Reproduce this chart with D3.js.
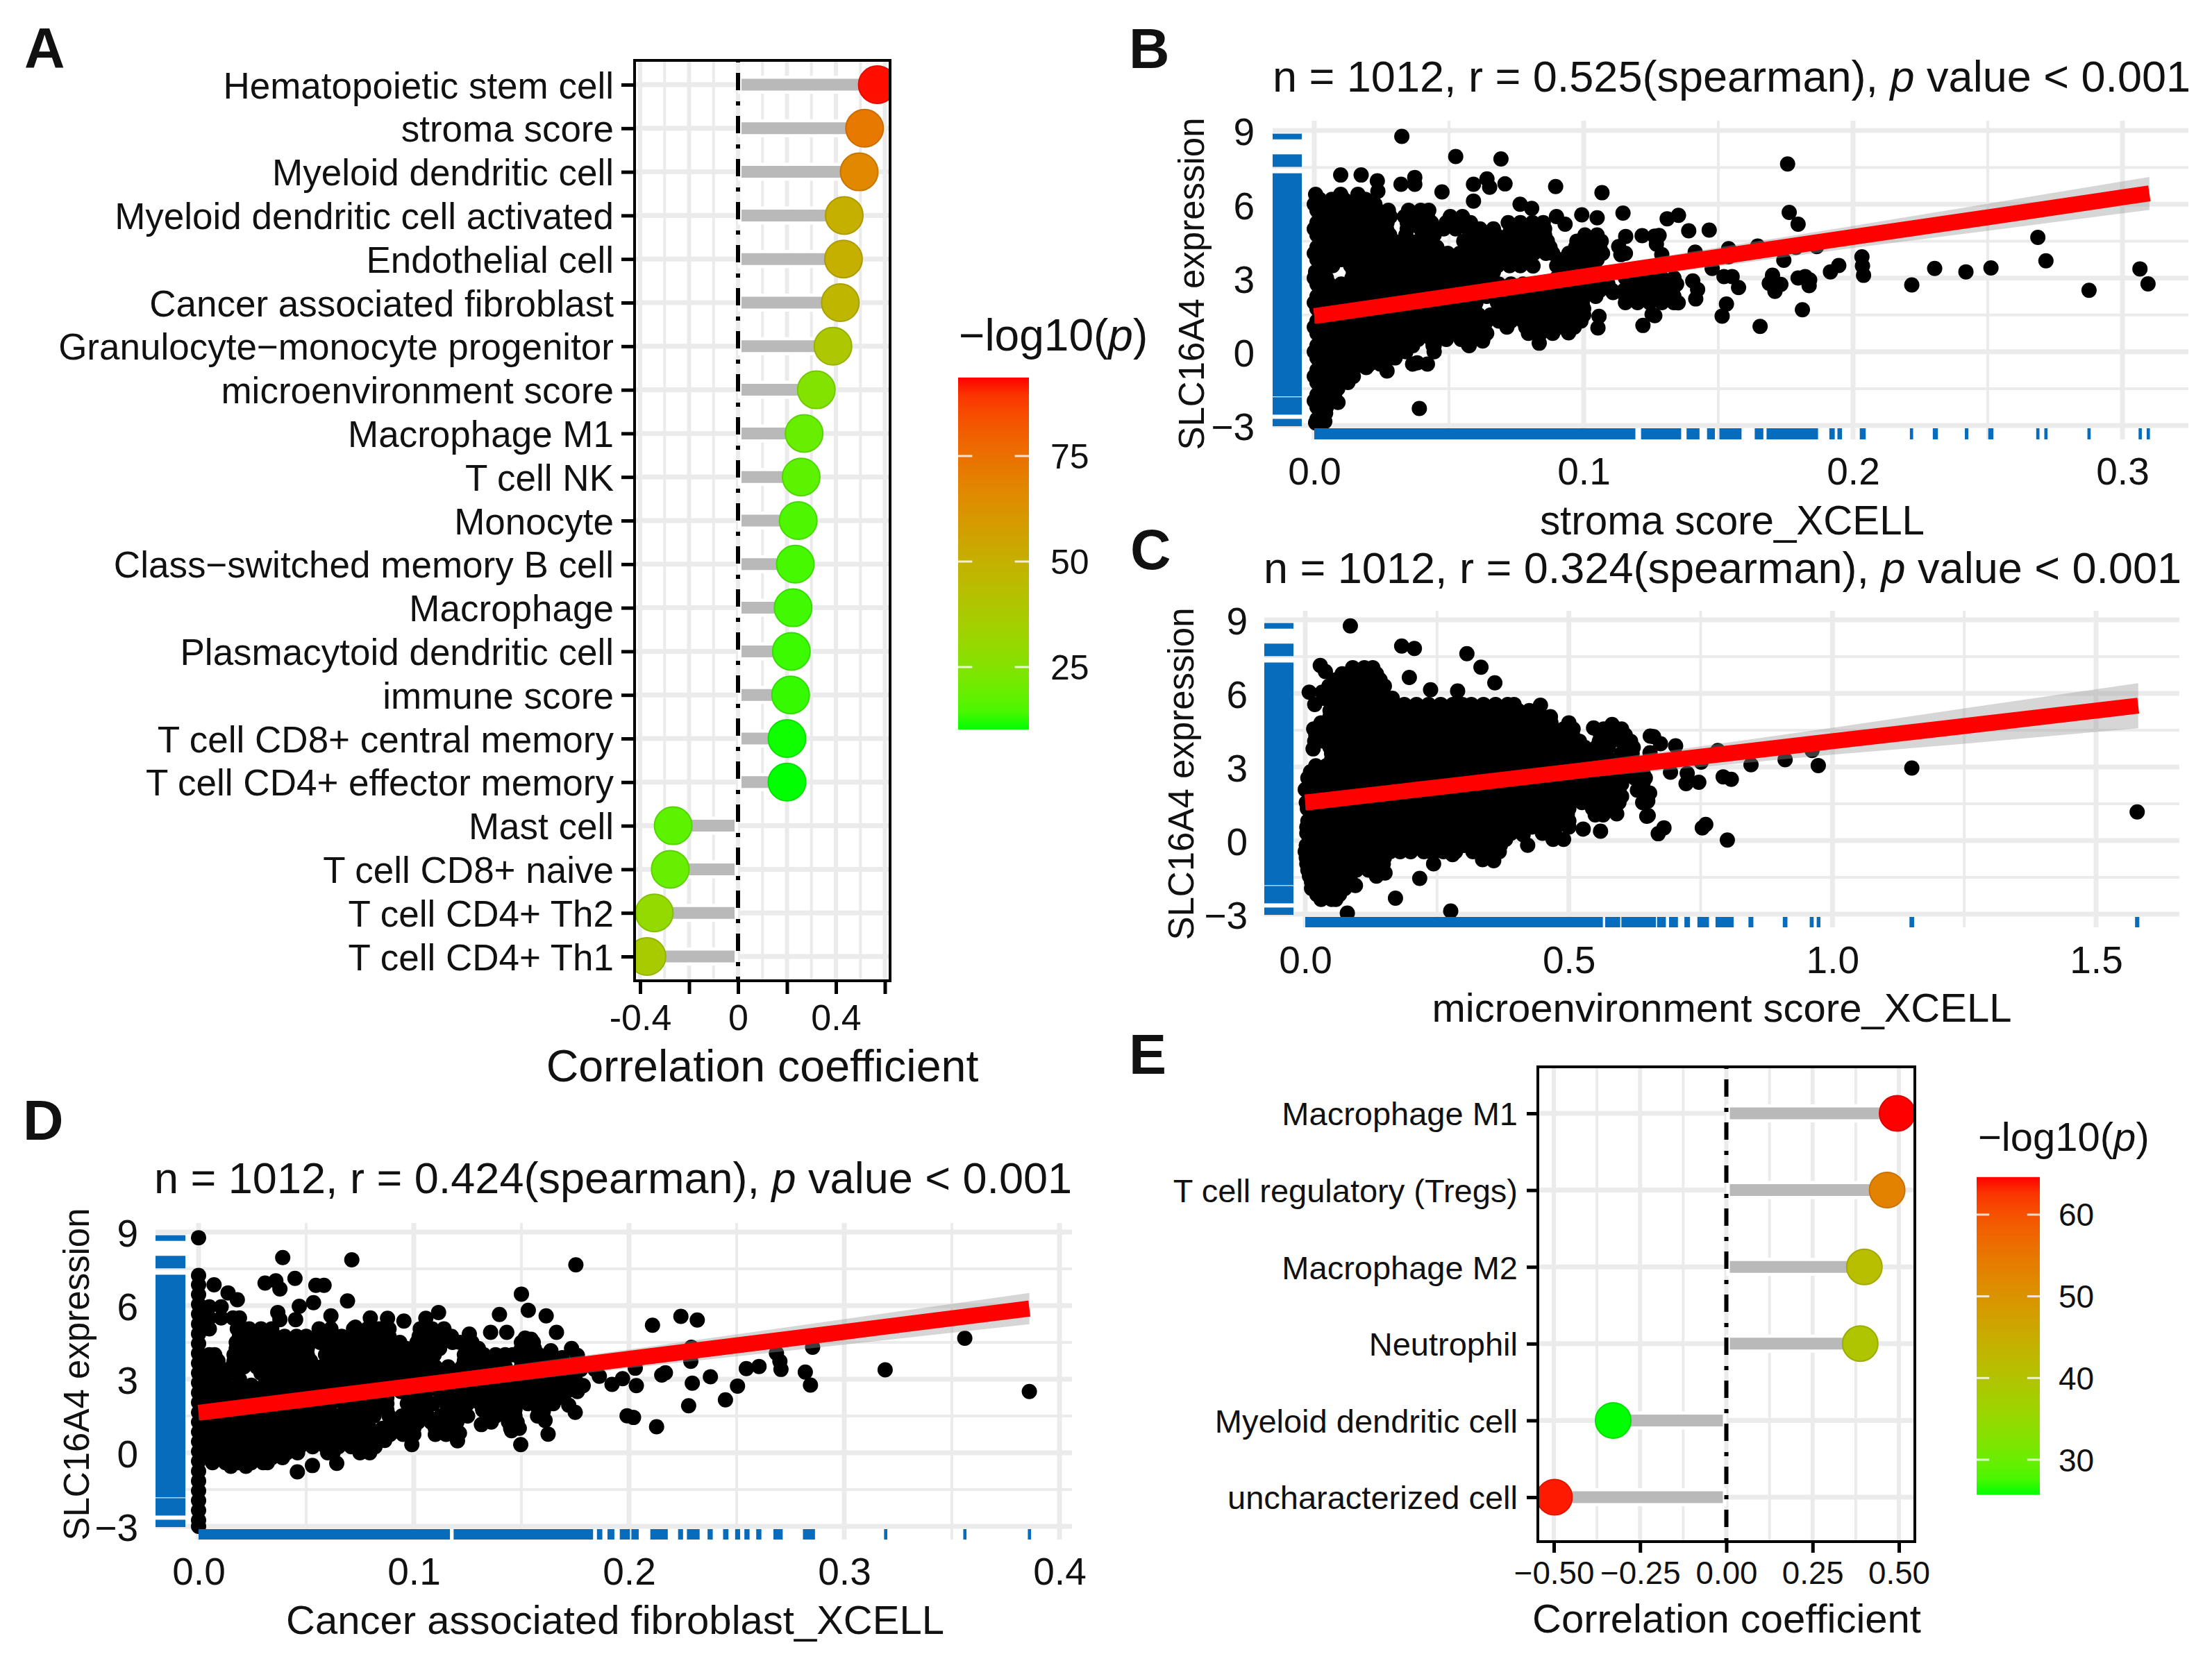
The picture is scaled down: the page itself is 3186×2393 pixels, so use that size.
<!DOCTYPE html>
<html>
<head>
<meta charset="utf-8">
<script src="https://cdn.jsdelivr.net/npm/d3@7"></script>
<style>
  html, body { margin: 0; background: #fff; }
  text { font-family: "Liberation Sans", Arial, sans-serif; fill: #111; }
</style>
</head>
<body>
<script>
// Panel A values
const cellsA = ['Hematopoietic stem cell', 'stroma score', 'Myeloid dendritic cell', 'Myeloid dendritic cell activated',
  'Endothelial cell', 'Cancer associated fibroblast', 'Granulocyte\u2212monocyte progenitor', 'microenvironment score',
  'Macrophage M1', 'T cell NK', 'Monocyte', 'Class\u2212switched memory B cell', 'Macrophage', 'Plasmacytoid dendritic cell',
  'immune score', 'T cell CD8+ central memory', 'T cell CD4+ effector memory', 'Mast cell', 'T cell CD8+ naive',
  'T cell CD4+ Th2', 'T cell CD4+ Th1'];
const corrA = [0.569, 0.517, 0.495, 0.434, 0.431, 0.418, 0.388, 0.32, 0.27, 0.258, 0.246, 0.234, 0.225, 0.218, 0.215, 0.2, 0.2, -0.265, -0.277, -0.342, -0.372];
const logpA = [93, 72, 67, 50, 50, 47, 39, 25, 19, 17, 15, 14, 13.5, 13, 12.5, 10.5, 10.2, 17, 19, 30, 37];

// Panel E values
const cellsE = ['Macrophage M1', 'T cell regulatory (Tregs)', 'Macrophage M2', 'Neutrophil', 'Myeloid dendritic cell', 'uncharacterized cell'];
const corrE = [0.495, 0.466, 0.40, 0.388, -0.328, -0.498];
const logpE = [64.6, 53, 41, 39.5, 25.7, 64];

// Rug of the expression values, the same in B, C and D: [from, to]
const exprRug = [[8.87, 8.64], [8.03, 7.52], [7.26, -1.82], [-1.85, -2.56], [-2.73, -3.03]];

// The clouds are too dense to read dot by dot. Loose points were read one by one,
// the solid parts are estimated as rows: [y, x, x, x ...]
const stromaLoose = [[.0325,8.76],[.0525,7.94],[.0693,7.84],[.0098,7.19],[.0174,7.19],[.0234,6.95],[.0236,6.53],[.0322,6.81],[.0373,7.09],[.0373,6.81],
  [.0474,6.5],[.0591,6.81],[.0641,7.03],[.0651,6.69],[.0708,6.83],[.0591,6.13],[.0896,6.72],[.1068,6.47],[.1146,5.64],[.0993,5.57],[.0899,5.5],[.0931,5.19],
  [.105,5.45],[.0764,6.0],[.0807,5.83],[.0831,5.08],[.1217,4.72],[.1156,4.69],[.113,4.28],[.1138,3.95],[.1263,4.7],[.0812,3.49],[.1109,2.41],[.1057,1.44],
  [.1053,.97],[.122,1.07],[.1254,1.52],[.0835,.35],[.0944,.77],[.0715,1.24],[.0796,.86],[.0572,.28],[.0625,.44],[.0441,.25],[.0382,-.45],[.027,-.78],[.0193,-.64],
  [.039,-2.31],[.0088,-2.06],[.0039,-2.84],[.0005,-2.89],[.1757,7.64],[.1763,5.67],[.1796,5.19],[.1352,5.55],[.131,5.41],[.139,4.92],[.1466,4.95],[.128,4.73],
  [.127,4.38],[.129,3.95],[.1414,4.05],[.1538,4.19],[.1538,3.86],[.1646,4.3],[.1743,3.72],[.1865,4.28],[.1788,4.24],[.1477,3.39],[.1521,3.06],[.1551,3.06],
  [.1575,2.61],[.1405,2.88],[.1423,2.53],[.1416,2.15],[.1351,1.99],[.153,1.94],[.1514,1.45],[.1655,1.03],[.1812,1.71],[.1701,3.11],[.1689,2.78],[.1732,2.74],
  [.171,2.46],[.171,2.78],[.1796,3.0],[.1822,3.06],[.1839,2.92],[.1837,2.69],[.1916,3.25],[.1947,3.51],[.2033,3.86],[.2035,3.49],[.2039,3.11],[.2218,2.72],
  [.2303,3.39],[.2419,3.25],[.2512,3.41],[.2686,4.65],[.2716,3.7],[.2876,2.5],[.3065,3.37],[.3095,2.76],[.1264,1.47]];
const stromaRows = [
  [6.4,.0005,.0098,.0162],
  [6.2,.002,.0065,.011,.0155,.019],
  [6.0,0,.0045,.0135,.0185,.0225],
  [5.75,.001,.0055,.01,.0145,.019,.0235,.0275,.035,.0395,.0425],
  [5.5,.0022,.0068,.0115,.016,.0205,.0248,.0282,.0335,.038,.042,.0505,.055],
  [5.25,.001,.0055,.01,.0145,.019,.0235,.027,.0345,.039,.0435,.049,.0535,.058,.072,.0765,.081,.085],
  [5.0,0,.0045,.009,.0135,.018,.0225,.0268,.0345,.0395,.0435,.048,.0525,.057,.0615,.0665,.073,.0775,.082,.0855],
  [4.75,.001,.0055,.01,.0145,.019,.0235,.028,.034,.0405,.0445,.0585,.063,.0675,.072,.0765,.081,.0855,.1005,.105],
  [4.5,.0022,.0068,.0113,.016,.0205,.025,.0295,.034,.0385,.043,.0555,.06,.0645,.069,.073,.0795,.084,.0865,.0975,.102,.1065],
  [4.25,.001,.0055,.01,.0145,.019,.0235,.028,.0325,.037,.0415,.0455,.0565,.061,.0655,.07,.0745,.078,.083,.0875,.097,.1015,.106],
  [4.0,0,.0045,.009,.0135,.018,.0225,.027,.0315,.036,.0405,.045,.0495,.054,.0585,.063,.0675,.072,.0765,.0815,.086,.0885,.0945,.099,.1035,.107,.1155],
  [3.75,.001,.0055,.01,.0145,.019,.0235,.028,.0325,.037,.0415,.046,.0505,.055,.0595,.064,.0685,.073,.0775,.092,.0965,.101,.105],
  [3.5,.0022,.0068,.0135,.0185,.023,.0275,.032,.0365,.041,.0455,.05,.0545,.059,.0635,.068,.0725,.0765,.09,.0945,.099,.1035],
  [3.25,.0005,.003,.0145,.019,.0235,.028,.0325,.037,.0415,.046,.0505,.055,.0595,.064,.0665,.0915,.096,.1005,.105],
  [3.0,0,.0045,.014,.0185,.023,.0275,.032,.0365,.041,.0455,.05,.0545,.059,.0635,.066,.09,.0945,.099,.1035,.107,.1155,.12,.1245,.129,.1335],
  [2.75,.001,.0055,.01,.0145,.019,.0235,.028,.0325,.037,.0415,.046,.0505,.055,.0595,.064,.0685,.073,.0775,.082,.0865,.091,.0955,.1,.1045,.109,.1165,.121,.1255,.13,.1345],
  [2.5,.0022,.0068,.0113,.016,.0205,.025,.0295,.034,.0385,.043,.0475,.052,.0565,.061,.0655,.07,.0745,.079,.0835,.088,.0925,.097,.1015,.106,.1105,.115,.1195,.124,.1285,.133],
  [2.25,.001,.0055,.01,.0145,.019,.0235,.028,.0325,.037,.0415,.046,.0505,.055,.0595,.064,.0685,.073,.0775,.082,.0865,.091,.0955,.1,.1045,.1155,.12,.1245,.129,.1335],
  [2.0,0,.0045,.009,.0135,.018,.0225,.027,.0315,.036,.0405,.045,.0495,.054,.0585,.06,.068,.0725,.077,.0815,.086,.0905,.095,.0995,.1155,.12,.1245,.129,.1335],
  [1.75,.001,.0055,.01,.0145,.019,.0235,.028,.0325,.037,.0415,.046,.0505,.055,.0595,.0695,.0745,.079,.0835,.088,.0925,.097,.1],
  [1.5,.0022,.0068,.0113,.016,.0205,.025,.0295,.034,.0385,.043,.0475,.052,.0565,.061,.0655,.07,.0745,.079,.0835,.088,.0925,.097,.1],
  [1.25,.001,.0055,.01,.0145,.019,.0235,.028,.0325,.037,.0415,.046,.0505,.055,.0595,.064,.0685,.073,.0775,.082,.0865,.091,.0955,.099],
  [1.0,0,.0045,.009,.0135,.018,.0225,.027,.0315,.036,.0405,.045,.0495,.054,.0585,.063,.0715,.0785,.083,.087,.091,.0965],
  [.75,.001,.0055,.01,.0145,.019,.0235,.028,.0325,.037,.0415,.046,.0505,.055,.0595,.064,.0795,.084,.0885],
  [.5,.0022,.0068,.0113,.016,.0205,.025,.0295,.034,.0385,.0435,.049,.0545,.059,.0625],
  [.25,.001,.0055,.01,.0145,.019,.0235,.028,.0325,.0365,.0445,.0575],
  [0,0,.0045,.009,.0135,.018,.0225,.027,.0315,.034,.0445],
  [-.25,.001,.0055,.01,.0145,.019,.0235,.028,.03],
  [-.5,.0022,.0068,.0113,.016,.0205,.0245,.0365,.042],
  [-.75,.001,.0055,.01,.0145],
  [-1,0,.0045,.009,.0135,.0145],
  [-1.25,.001,.0055,.01,.0125],
  [-1.5,.0022,.0068,.0087],
  [-1.75,.001,.0055,.0075],
  [-2,0,.004],
  [-2.25,.001,.0045],
  [-2.5,.0022,.0042],
  [-2.75,.001,.0035]
];

const microLoose = [[.0855,8.75],[.1829,7.93],[.207,7.83],[.3066,7.62],[.3333,7.07],[.3596,6.43],[.0285,7.14],[.0382,6.89],[.1974,6.65],[.2377,6.15],[.289,6.1],
  [.4461,5.52],[.0075,6.05],[.0149,3.74],[.0272,4.68],[0,2.08],[.2171,-1.54],[.1711,-2.35],[.0798,-2.96],[.2759,-2.87],[.0952,-1.83],[.1513,-1.32],[.2434,-.95],
  [.2346,-.43],[.2794,-.57],[.3364,-.78],[.3575,-.82],[.4219,-.19],[.4132,.24],[.5272,.47],[.5601,.38],[.5908,1.09],[.5469,4.59],[.582,4.73],[.6544,4.26],[.6478,.99],
  [.6607,4.24],[.6739,3.95],[.7025,3.86],[.654,3.58],[.6928,2.79],[.7245,2.74],[.7223,2.32],[.7465,2.38],[.7927,2.6],[.8081,2.5],[.8455,3.09],[.9102,3.3],[.9731,3.06],
  [.9613,3.67],[1.1505,2.96],[.7826,3.67],[.7509,3.2],[.6408,2.74],[.6408,2.36],[.6532,1.94],[.6497,1.61],[.6505,1.02],[.6804,.52],[.6695,.28],[.7597,.66],[.7531,.52],
  [.8006,.02],[1.578,1.17]];
const microRows = [
  [7.05,.09,.112,.128],
  [6.8,.07,.092,.115,.135],
  [6.55,.058,.08,.103,.125,.142],
  [6.3,.045,.068,.09,.113,.135,.15],
  [6.05,.032,.055,.078,.101,.124,.148],
  [5.8,.035,.06,.083,.106,.129,.152,.165],
  [5.55,.018,.05,.073,.096,.119,.142,.165,.188,.211,.234,.257,.28,.298,.315,.338,.361,.384,.396],
  [5.3,.047,.07,.093,.116,.139,.162,.185,.208,.231,.254,.277,.295,.312,.335,.358,.381,.404,.425],
  [5.05,.047,.07,.093,.116,.139,.162,.185,.208,.231,.254,.277,.285,.31,.333,.356,.379,.402,.425,.448,.465],
  [4.8,.03,.05,.075,.098,.121,.144,.167,.19,.213,.236,.259,.282,.305,.328,.351,.374,.397,.42,.443,.466,.5],
  [4.55,.016,.03,.058,.081,.104,.127,.15,.173,.196,.219,.242,.265,.288,.311,.334,.357,.38,.403,.426,.449,.468,.49,.508,.566,.585,.6],
  [4.3,.02,.045,.07,.093,.116,.139,.162,.185,.208,.231,.254,.277,.3,.323,.346,.369,.392,.415,.438,.461,.484,.507,.56,.583,.607],
  [4.05,.018,.036,.047,.07,.093,.116,.139,.162,.185,.208,.231,.254,.277,.3,.323,.346,.369,.392,.415,.438,.461,.484,.507,.52,.558,.58,.6,.617],
  [3.8,.047,.07,.093,.116,.139,.162,.185,.208,.231,.254,.277,.3,.323,.346,.369,.392,.415,.438,.461,.484,.507,.53,.552,.575,.606,.622],
  [3.55,.05,.073,.096,.119,.142,.165,.188,.211,.234,.257,.28,.303,.326,.349,.372,.395,.418,.441,.464,.487,.51,.533,.55,.565,.6,.62],
  [3.3,.05,.073,.096,.119,.142,.165,.188,.211,.234,.257,.28,.303,.326,.349,.372,.395,.418,.441,.464,.487,.51,.533,.556,.579,.61],
  [3.05,.02,.04,.062,.085,.108,.131,.154,.177,.2,.223,.246,.269,.292,.315,.338,.361,.384,.407,.43,.453,.476,.499,.522,.545,.568,.59,.63],
  [2.8,.01,.033,.056,.079,.102,.125,.148,.171,.194,.217,.24,.263,.286,.309,.332,.355,.378,.401,.424,.447,.47,.493,.516,.539,.562,.585,.608,.63],
  [2.55,.005,.027,.05,.073,.096,.119,.142,.165,.188,.211,.234,.257,.28,.303,.326,.349,.372,.395,.418,.441,.464,.487,.51,.533,.556,.579,.602,.625,.645],
  [2.3,.008,.031,.054,.077,.1,.123,.146,.169,.192,.215,.238,.261,.284,.307,.33,.353,.376,.399,.422,.445,.468,.491,.514,.537,.56,.583,.6,.635],
  [2.05,.022,.045,.068,.091,.114,.137,.16,.183,.206,.229,.252,.275,.298,.321,.344,.355,.397,.42,.443,.45,.48,.503,.526,.549,.572,.595,.63],
  [1.8,.01,.033,.056,.079,.102,.125,.148,.171,.194,.217,.24,.263,.286,.309,.332,.355,.378,.401,.424,.447,.47,.493,.516,.539,.562,.585,.6],
  [1.55,.002,.025,.048,.071,.094,.117,.14,.163,.186,.209,.232,.255,.278,.301,.324,.347,.37,.393,.416,.439,.462,.485,.5,.525,.548,.57,.595,.64],
  [1.3,.004,.027,.05,.073,.096,.119,.142,.165,.188,.211,.234,.257,.28,.303,.326,.349,.372,.395,.418,.441,.464,.487,.5,.545,.57],
  [1.05,.02,.043,.066,.089,.112,.135,.158,.181,.204,.227,.25,.273,.296,.319,.342,.365,.388,.411,.434,.457,.48,.497,.55,.565],
  [.8,.005,.028,.051,.074,.097,.12,.143,.166,.189,.212,.235,.258,.281,.304,.327,.35,.373,.396,.419,.442,.465,.488,.5],
  [.55,.003,.026,.049,.072,.095,.118,.141,.164,.187,.21,.233,.256,.279,.302,.325,.348,.371,.394,.4,.43,.453,.476,.5],
  [.3,.003,.026,.049,.072,.095,.118,.141,.164,.187,.21,.233,.256,.279,.302,.325,.348,.371,.39,.45,.47],
  [.05,.02,.043,.066,.089,.112,.135,.158,.181,.204,.227,.25,.273,.296,.319,.342,.365,.38,.47,.49],
  [-.2,.002,.025,.048,.071,.094,.117,.14,.163,.186,.209,.232,.255,.278,.301,.32,.345,.37],
  [-.45,0,.023,.046,.069,.092,.115,.138,.161,.18,.2,.225,.245,.262,.285,.318,.345,.368],
  [-.7,.002,.025,.048,.071,.094,.117,.14,.15],
  [-.95,.003,.026,.049,.072,.095,.118,.141,.148],
  [-1.2,.005,.028,.051,.074,.097,.12,.14],
  [-1.45,.008,.031,.054,.077,.085,.135],
  [-1.7,.012,.035,.058,.078],
  [-1.95,.012,.035,.058,.075],
  [-2.2,.022,.045,.065],
  [-2.4,.03,.05,.058]
];

const cafLoose = [[.0391,7.96],[.0712,7.87],[.0072,6.85],[.0137,6.52],[.018,6.24],[.0309,6.92],[.0359,7.01],[.0378,6.68],[.0448,7.11],[.0545,6.83],[.0583,6.83],[.0534,6.12],
  [.0692,6.19],[.0468,5.97],[.0368,5.72],[.0378,5.43],[.0451,5.43],[.0615,5.58],[.15,6.47],[.1532,5.81],[.1398,5.64],[.0459,-.78],[.0529,-.52],[.0642,-.43],[.0991,.33],
  [.1203,.49],[.1212,.8],[.1314,1.15],[.1497,.33],[.1454,.9],[.1115,5.72],[.1056,5.48],[.0798,5.5],[.0728,5.12],[.0878,5.48],[.0954,5.37],[.1258,4.84],[.1357,4.91],
  [.1432,4.91],[.1518,4.68],[.1753,7.66],[.1615,5.58],[.1663,4.91],[.1545,4.63],[.1733,4.25],[.176,3.97],[.155,4.16],[.1637,4.16],[.169,3.88],[.2029,3.45],[.2034,2.74],
  [.2152,3.17],[.2169,3.26],[.2287,3.73],[.229,4.3],[.2294,2.84],[.2378,3.1],[.2109,5.2],[.2241,5.56],[.2317,5.41],[.2277,1.92],[.2448,2.16],[.2504,2.72],[.2545,3.43],
  [.2604,3.52],[.2685,4.06],[.2701,3.73],[.2706,3.4],[.2853,4.3],[.2819,3.29],[.2843,2.76],[.1991,1.51],[.2021,1.44],[.2128,1.06],[.172,1.94],[.175,1.65],[.1602,1.7],
  [.161,1.32],[.1624,.76],[.1787,2.74],[.1862,3.12],[.1921,2.79],[.197,3.02],[.1841,3.4],[.1776,3.4],[.319,3.38],[.356,4.67],[.386,2.5]];
// many samples sit exactly on x = 0
const cafZeroExpr = [8.77,7.23,6.85,6.45,6.05,5.65,5.25,4.85,4.45,4.05,3.65,3.25,2.85,2.45,2.05,1.65,1.25,.85,.45,.05,-.35,-.75,-1.15,-1.55,-1.95,-2.35,-2.75,-3];
const cafRows = [
  [5.95,.005,.0105],
  [5.5,.005,.0105,.016,.019],
  [5.05,.005,.018,.0235,.029,.034,.056,.0615,.072,.0785,.084,.0885,.103,.1085,.114],
  [4.75,.019,.025,.031,.0355,.04,.0455,.05,.056,.0615,.0665,.0725,.078,.084,.0885,.1025,.108,.114,.1175],
  [4.5,.0175,.0235,.029,.035,.0415,.0465,.052,.0565,.062,.0675,.0705,.076,.082,.0875,.0935,.1015,.107,.1125,.118,.1215,.127,.15,.1555],
  [4.25,.0175,.0235,.029,.035,.041,.047,.0505,.0605,.0665,.0725,.0785,.0845,.0905,.0965,.1015,.107,.112,.125,.13,.15,.156],
  [4.0,.005,.0075,.0165,.022,.028,.034,.04,.046,.0505,.059,.065,.071,.077,.083,.089,.095,.1,.106,.1095,.1235,.13,.1325,.138,.1425,.146,.152,.158,.164],
  [3.75,.005,.009,.0165,.0225,.0285,.0345,.0405,.0465,.052,.06,.066,.072,.078,.084,.09,.096,.102,.107,.1235,.1295,.136,.142,.15,.156,.162,.168],
  [3.5,.005,.0095,.0155,.021,.027,.033,.039,.045,.051,.057,.0615,.068,.074,.08,.086,.092,.098,.104,.11,.116,.1225,.1285,.131,.1365,.1425,.15,.156,.162,.168,.174],
  [3.25,.005,.012,.018,.029,.035,.041,.047,.053,.059,.065,.071,.077,.083,.089,.095,.101,.107,.113,.119,.125,.131,.137,.143,.149,.155,.161,.167,.173],
  [3.0,.0065,.012,.019,.032,.038,.044,.05,.056,.0615,.067,.073,.079,.085,.091,.097,.103,.109,.115,.121,.127,.133,.139,.145,.151,.157,.163,.169,.175],
  [2.75,.0065,.0125,.0185,.0245,.0305,.0365,.0425,.0485,.0545,.0605,.0665,.0725,.0785,.0845,.0905,.0965,.1025,.1085,.1145,.1205,.1265,.1325,.1385,.1445,.1505,.1565,.1625,.1685,.1745],
  [2.5,.005,.0105,.016,.022,.028,.034,.04,.046,.052,.058,.064,.07,.076,.082,.088,.094,.1,.106,.112,.118,.124,.13,.136,.142,.148,.154,.16,.166,.171,.176],
  [2.25,.005,.011,.017,.023,.029,.035,.041,.047,.053,.059,.065,.071,.077,.083,.0875,.098,.104,.113,.119,.125,.131,.137,.143,.149,.155,.161,.167],
  [2.0,.0075,.0135,.0195,.0255,.0315,.0375,.0435,.0495,.0555,.0615,.0675,.0735,.0795,.0875,.097,.103,.109,.115,.12,.125,.131,.137,.1425,.146,.153,.159,.1648],
  [1.75,.005,.011,.017,.023,.029,.035,.041,.047,.053,.0585,.07,.076,.082,.0875,.098,.104,.116,.122,.132,.138,.1435,.147,.158],
  [1.5,.005,.0105,.0165,.0225,.0285,.0345,.0405,.0465,.0525,.0585,.0645,.0705,.0765,.0815,.0885,.0945,.1005,.1065,.1125,.118,.1205,.125,.134,.138,.1435,.147,.1575],
  [1.25,.005,.011,.017,.023,.029,.035,.041,.047,.053,.059,.065,.071,.077,.09,.096,.102,.108,.114,.12,.136,.144,.148],
  [1.0,.0075,.0135,.0195,.0255,.0315,.0375,.0435,.0495,.0555,.0615,.0675,.0735,.0795,.0855,.0915,.0975,.1,.11,.1155,.145,.149],
  [.75,.005,.011,.017,.023,.029,.035,.041,.047,.053,.059,.065,.071,.077,.083,.089,.095,.1,.11,.115],
  [.5,.005,.0105,.0165,.0225,.0285,.0345,.0405,.0465,.0525,.0585,.0645,.0705,.0765,.0825,.0865],
  [.25,.005,.011,.017,.023,.029,.035,.041,.047,.053,.059,.065,.071,.077,.082],
  [0,.005,.011,.017,.023,.029,.0325,.037,.041,.046,.06,.0625,.075,.0795],
  [-.2,.005,.011,.017,.023,.029,.034,.039],
  [-.4,.0065,.0125,.0185,.0245,.03,.032],
  [-.55,.015,.022]
];

// Bottom rugs: [from, to]
const stromaRug = [[0,.1192],[.1213,.1362],[.1382,.143],[.1458,.1487],[.1504,.1586],[.1635,.1667],[.1679,.187],[.1912,.1932],[.1942,.1959],[.2025,.2047],
  [.2211,.2223],[.2296,.2315],[.2415,.2428],[.2502,.2521],[.268,.2692],[.271,.2722],[.287,.2882],[.306,.3072],[.309,.3102]];
const microRug = [[0,.5645],[.5689,.5974],[.5996,.665],[.6673,.684],[.69,.7069],[.7192,.7298],[.7438,.7658],[.7782,.8125],[.8407,.85],[.9058,.9146],[.9569,.9644],[.9701,.9771],[1.1461,1.1549],[1.574,1.582]];
const cafRug = [[0,.1168],[.1185,.1833],[.1851,.1876],[.19,.1932],[.1957,.2004],[.2011,.2045],[.2099,.218],[.2228,.2251],[.2269,.2328],[.2365,.2389],[.2437,.2462],
  [.2493,.2516],[.2536,.256],[.2591,.2615],[.2671,.2714],[.2808,.2864],[.3185,.32],[.3553,.3568],[.3853,.3868]];

// Regression lines with their confidence bands
const stromaFit = { x: [0, .05, .1, .15, .2, .25, .31], y: [1.45, 2.25, 3.06, 3.86, 4.67, 5.47, 6.44], low: [1.15, 2.0, 2.76, 3.48, 4.22, 4.92, 5.77], high: [1.75, 2.5, 3.36, 4.24, 5.12, 6.02, 7.11] };
const microFit = { x: [0, .25, .5, .75, 1, 1.25, 1.58], y: [1.55, 2.17, 2.8, 3.42, 4.05, 4.67, 5.5], low: [1.25, 1.92, 2.5, 3.0, 3.5, 3.95, 4.58], high: [1.85, 2.42, 3.1, 3.84, 4.6, 5.39, 6.42] };
const cafFit = { x: [0, .05, .1, .2, .3, .386], y: [1.63, 2.18, 2.73, 3.83, 4.93, 5.88], low: [1.33, 1.93, 2.43, 3.45, 4.41, 5.24], high: [1.93, 2.43, 3.03, 4.21, 5.45, 6.52] };

const exprTicks = [-3, 0, 3, 6, 9];
const exprMinor = [-1.5, 1.5, 4.5, 7.5];

const width = 3186;
const height = 2393;
const grid = '#ebebeb';
const rugBlue = '#066cbb';

const svg = d3.select('body').append('svg')
  .attr('width', width)
  .attr('height', height)
  .style('display', 'block');
const defs = svg.append('defs');

function toPoints(rows) {
  return rows.flatMap(([y, ...xs]) => xs.map(x => [x, y]));
}

function label(text, x, y, size, opts = {}) {
  return svg.append('text')
    .attr('x', x).attr('y', y)
    .attr('font-size', size)
    .attr('font-weight', opts.bold ? 'bold' : null)
    .attr('text-anchor', opts.anchor || 'start')
    .attr('transform', opts.rotate ? `rotate(-90 ${x} ${y})` : null)
    .text(text);
}

// text with an italic p in the middle
function italicP(before, after, x, y, size) {
  const t = svg.append('text').attr('x', x).attr('y', y).attr('font-size', size);
  t.append('tspan').text(before);
  t.append('tspan').attr('font-style', 'italic').text('p');
  t.append('tspan').text(after);
}

// Lollipop panels (A and E)
function lollipop(o) {
  const x = d3.scaleLinear().domain(o.xDomain).range(o.xRange);
  const y = d3.scalePoint().domain(o.cells).range(o.yRange);
  const color = d3.scaleLinear().domain(o.colorDomain).range(['#00ff00', '#ff0000']).interpolate(d3.interpolateLab);
  const data = o.cells.map((c, i) => ({ cell: c, r: o.corr[i], p: o.logp[i] }));
  const g = svg.append('g');

  const clip = 'clip' + o.id;
  defs.append('clipPath').attr('id', clip).append('rect')
    .attr('x', o.left).attr('y', o.top).attr('width', o.right - o.left).attr('height', o.bottom - o.top);
  const plot = g.append('g').attr('clip-path', `url(#${clip})`);

  plot.selectAll('.minor').data(o.xMinor).enter().append('line')
    .attr('x1', d => x(d)).attr('x2', d => x(d)).attr('y1', o.top).attr('y2', o.bottom)
    .attr('stroke', grid).attr('stroke-width', 4);
  plot.selectAll('.major').data(o.xTicks).enter().append('line')
    .attr('x1', d => x(d)).attr('x2', d => x(d)).attr('y1', o.top).attr('y2', o.bottom)
    .attr('stroke', grid).attr('stroke-width', 6);
  plot.selectAll('.row').data(o.cells).enter().append('line')
    .attr('x1', o.left).attr('x2', o.right).attr('y1', d => y(d)).attr('y2', d => y(d))
    .attr('stroke', grid).attr('stroke-width', 7);

  // white halo the grid stops at
  plot.selectAll('.halo').data(data).enter().append('line')
    .attr('x1', d => x(0)).attr('x2', d => x(d.r)).attr('y1', d => y(d.cell)).attr('y2', d => y(d.cell))
    .attr('stroke', '#fff').attr('stroke-width', 26);

  plot.append('line')
    .attr('x1', x(0)).attr('x2', x(0)).attr('y1', o.top).attr('y2', o.bottom)
    .attr('stroke', '#000').attr('stroke-width', 6)
    .attr('stroke-dasharray', '25 16 6 15').attr('stroke-dashoffset', 44);

  plot.selectAll('.stem').data(data).enter().append('line')
    .attr('x1', d => x(0) + (d.r > 0 ? 5 : -5)).attr('x2', d => x(d.r)).attr('y1', d => y(d.cell)).attr('y2', d => y(d.cell))
    .attr('stroke', '#b9b9b9').attr('stroke-width', 17);

  plot.selectAll('circle').data(data).enter().append('circle')
    .attr('cx', d => x(d.r)).attr('cy', d => y(d.cell)).attr('r', o.radius)
    .attr('fill', d => color(d.p))
    .attr('stroke', d => d3.color(color(d.p)).darker(0.35))
    .attr('stroke-width', 2);

  g.append('rect')
    .attr('x', o.left).attr('y', o.top).attr('width', o.right - o.left).attr('height', o.bottom - o.top)
    .attr('fill', 'none').attr('stroke', '#000').attr('stroke-width', 4);

  const xAxis = g.append('g').attr('transform', `translate(0,${o.bottom})`)
    .call(d3.axisBottom(x).tickValues(o.xTicks).tickSize(o.tick).tickFormat(o.xFormat));
  xAxis.select('.domain').remove();
  xAxis.selectAll('line').attr('stroke', '#000').attr('stroke-width', 5);
  xAxis.selectAll('text').attr('y', o.xLabelDrop).attr('dy', 0).attr('font-size', o.tickFont).attr('fill', '#111').attr('font-family', null);

  const yAxis = g.append('g').attr('transform', `translate(${o.left},0)`)
    .call(d3.axisLeft(y).tickSize(o.tick).tickPadding(o.yPad));
  yAxis.select('.domain').remove();
  yAxis.selectAll('line').attr('stroke', '#000').attr('stroke-width', 5);
  yAxis.selectAll('text').attr('dy', '.36em').attr('font-size', o.labelFont).attr('fill', '#111').attr('font-family', null);

  label('Correlation coefficient', o.titleX, o.titleY, o.titleFont, { anchor: 'middle' });

  // colour bar
  const bar = d3.scaleLinear().domain(o.barTicks.slice(0, 2)).range(o.barTickY);
  const gradId = 'grad' + o.id;
  const grad = defs.append('linearGradient').attr('id', gradId).attr('x1', 0).attr('x2', 0).attr('y1', 1).attr('y2', 0);
  d3.range(0, 1.0001, 0.05).forEach(t => {
    grad.append('stop').attr('offset', t)
      .attr('stop-color', color(o.colorDomain[0] + t * (o.colorDomain[1] - o.colorDomain[0])));
  });
  svg.append('rect')
    .attr('x', o.barX).attr('width', o.barW)
    .attr('y', bar(o.colorDomain[1])).attr('height', bar(o.colorDomain[0]) - bar(o.colorDomain[1]))
    .attr('fill', `url(#${gradId})`);
  const marks = svg.selectAll('.barmark' + o.id).data(o.barTicks).enter();
  [[0, o.barW / 5], [o.barW * 4 / 5, o.barW]].forEach(([a, b]) => {
    marks.append('line')
      .attr('x1', o.barX + a).attr('x2', o.barX + b)
      .attr('y1', d => bar(d)).attr('y2', d => bar(d))
      .attr('stroke', '#fff').attr('stroke-opacity', 0.8).attr('stroke-width', 3);
  });
  marks.append('text')
    .attr('x', o.barLabelX).attr('y', d => bar(d)).attr('dy', '.36em')
    .attr('font-size', o.barFont).text(d => d);

  italicP('\u2212log10(', ')', o.legendX, o.legendY, o.legendFont);
}

// Scatter panels (B, C and D)
function scatter(o) {
  const x = d3.scaleLinear().domain(o.xRef).range(o.xRefPx);
  const y = d3.scaleLinear().domain([-3, 9]).range(o.yRefPx);
  const g = svg.append('g');

  g.selectAll('.hminor').data(exprMinor).enter().append('line')
    .attr('x1', o.left).attr('x2', o.right).attr('y1', d => y(d)).attr('y2', d => y(d))
    .attr('stroke', grid).attr('stroke-width', 4);
  g.selectAll('.hmajor').data(exprTicks).enter().append('line')
    .attr('x1', o.left).attr('x2', o.right).attr('y1', d => y(d)).attr('y2', d => y(d))
    .attr('stroke', grid).attr('stroke-width', 7);
  g.selectAll('.vminor').data(o.xMinor).enter().append('line')
    .attr('x1', d => x(d)).attr('x2', d => x(d)).attr('y1', o.top).attr('y2', o.bottom)
    .attr('stroke', grid).attr('stroke-width', 4);
  g.selectAll('.vmajor').data(o.xTicks).enter().append('line')
    .attr('x1', d => x(d)).attr('x2', d => x(d)).attr('y1', o.top).attr('y2', o.bottom)
    .attr('stroke', grid).attr('stroke-width', 7);

  g.selectAll('circle').data(o.points).enter().append('circle')
    .attr('cx', d => x(d[0])).attr('cy', d => y(d[1])).attr('r', 11)
    .attr('fill', '#000');

  // rugs
  g.selectAll('.rugy').data(exprRug).enter().append('rect')
    .attr('x', o.rugLeft[0]).attr('width', o.rugLeft[1] - o.rugLeft[0])
    .attr('y', d => y(d[0])).attr('height', d => y(d[1]) - y(d[0]))
    .attr('fill', rugBlue);
  g.selectAll('.rugx').data(o.rug).enter().append('rect')
    .attr('x', d => x(d[0])).attr('width', d => x(d[1]) - x(d[0]))
    .attr('y', o.rugBottom[0]).attr('height', o.rugBottom[1] - o.rugBottom[0])
    .attr('fill', rugBlue);

  // regression
  const fit = o.fit.x.map((v, i) => ({ x: v, y: o.fit.y[i], low: o.fit.low[i], high: o.fit.high[i] }));
  g.append('path').datum(fit)
    .attr('d', d3.area().x(d => x(d.x)).y0(d => y(d.low)).y1(d => y(d.high)))
    .attr('fill', '#999').attr('fill-opacity', 0.4);
  g.append('path').datum(fit)
    .attr('d', d3.line().x(d => x(d.x)).y(d => y(d.y)))
    .attr('fill', 'none').attr('stroke', '#ff0000').attr('stroke-width', 23);

  const xAxis = g.append('g').attr('transform', `translate(0,${o.xLabelY})`)
    .call(d3.axisBottom(x).tickValues(o.xTicks).tickSize(0).tickFormat(d3.format('.1f')));
  xAxis.select('.domain').remove();
  xAxis.selectAll('line').remove();
  xAxis.selectAll('text').attr('y', 0).attr('dy', 0).attr('font-size', 55).attr('fill', '#111').attr('font-family', null);

  const yAxis = g.append('g').attr('transform', `translate(${o.yLabelX},0)`)
    .call(d3.axisLeft(y).tickValues(exprTicks).tickSize(0).tickPadding(0));
  yAxis.select('.domain').remove();
  yAxis.selectAll('line').remove();
  yAxis.selectAll('text').attr('dy', '.38em').attr('font-size', 55).attr('fill', '#111').attr('font-family', null);

  italicP(o.title, ' value < 0.001', o.titleX, o.titleY, 63);
  label(o.xTitle, o.xTitleX, o.xTitleY, o.xTitleFont, { anchor: 'middle' });
  label('SLC16A4 expression', o.yTitleX, o.yTitleY, 51, { anchor: 'middle', rotate: true });
}

lollipop({
  id: 'A', cells: cellsA, corr: corrA, logp: logpA,
  xDomain: [-0.4, 0.4], xRange: [922, 1204], yRange: [122, 1378],
  left: 914, right: 1282, top: 87, bottom: 1413,
  xTicks: [-0.4, -0.2, 0, 0.2, 0.4, 0.6], xMinor: [-0.3, -0.1, 0.1, 0.3, 0.5],
  xFormat: d => ({ '-0.4': '-0.4', '0': '0', '0.4': '0.4' }[d] || ''),
  colorDomain: [10.2, 93.6], radius: 27,
  tick: 19, yPad: 11, xLabelDrop: 71, tickFont: 52, labelFont: 53,
  titleX: 1098, titleY: 1558, titleFont: 64.5,
  barX: 1380, barW: 102, barTicks: [25, 50, 75], barTickY: [961, 809],
  barLabelX: 1513, barFont: 50, legendX: 1381, legendY: 505, legendFont: 64
});

lollipop({
  id: 'E', cells: cellsE, corr: corrE, logp: logpE,
  xDomain: [-0.5, 0.5], xRange: [2238, 2735], yRange: [1604, 2157],
  left: 2215, right: 2758, top: 1537, bottom: 2221,
  xTicks: [-0.5, -0.25, 0, 0.25, 0.5], xMinor: [-0.375, -0.125, 0.125, 0.375],
  xFormat: d => d3.format('.2f')(d),
  colorDomain: [25.7, 64.6], radius: 25.5,
  tick: 16, yPad: 13, xLabelDrop: 61, tickFont: 45.7, labelFont: 47,
  titleX: 2487, titleY: 2352, titleFont: 58,
  barX: 2847, barW: 91, barTicks: [30, 40, 50, 60], barTickY: [2103, 1985.3],
  barLabelX: 2965, barFont: 46, legendX: 2849, legendY: 1658, legendFont: 58
});

scatter({
  points: stromaLoose.concat(toPoints(stromaRows)), rug: stromaRug, fit: stromaFit,
  xRef: [0, 0.3], xRefPx: [1893, 3057], yRefPx: [613, 188],
  left: 1833, right: 3152, top: 174, bottom: 633,
  rugLeft: [1833, 1875], rugBottom: [617, 633],
  xTicks: [0, 0.1, 0.2, 0.3], xMinor: [0.05, 0.15, 0.25],
  xLabelY: 698, yLabelX: 1807,
  title: 'n = 1012, r = 0.525(spearman), ', titleX: 1833, titleY: 132,
  xTitle: 'stroma score_XCELL', xTitleX: 2495, xTitleY: 770, xTitleFont: 58.3,
  yTitleX: 1734, yTitleY: 409
});

scatter({
  points: microLoose.concat(toPoints(microRows)), rug: microRug, fit: microFit,
  xRef: [0, 1.5], xRefPx: [1880, 3019], yRefPx: [1317, 893],
  left: 1821, right: 3139, top: 880, bottom: 1336,
  rugLeft: [1821, 1863], rugBottom: [1321, 1336],
  xTicks: [0, 0.5, 1, 1.5], xMinor: [0.25, 0.75, 1.25],
  xLabelY: 1402, yLabelX: 1797,
  title: 'n = 1012, r = 0.324(spearman), ', titleX: 1820, titleY: 840,
  xTitle: 'microenvironment score_XCELL', xTitleX: 2480, xTitleY: 1472, xTitleFont: 58,
  yTitleX: 1719, yTitleY: 1115
});

scatter({
  points: cafLoose.concat(cafZeroExpr.map(v => [0, v]), toPoints(cafRows)), rug: cafRug, fit: cafFit,
  xRef: [0, 0.4], xRefPx: [286, 1526], yRefPx: [2199, 1775],
  left: 224, right: 1544, top: 1762, bottom: 2218,
  rugLeft: [224, 267], rugBottom: [2203, 2218],
  xTicks: [0, 0.1, 0.2, 0.3, 0.4], xMinor: [0.05, 0.15, 0.25, 0.35],
  xLabelY: 2283, yLabelX: 199,
  title: 'n = 1012, r = 0.424(spearman), ', titleX: 222, titleY: 1719,
  xTitle: 'Cancer associated fibroblast_XCELL', xTitleX: 886, xTitleY: 2354, xTitleFont: 58,
  yTitleX: 128, yTitleY: 1980
});

// panel letters
label('A', 35, 97, 81, { bold: true });
label('B', 1626, 98, 81, { bold: true });
label('C', 1628, 820, 81, { bold: true });
label('D', 33, 1642, 81, { bold: true });
label('E', 1626, 1547, 81, { bold: true });
</script>
</body>
</html>
